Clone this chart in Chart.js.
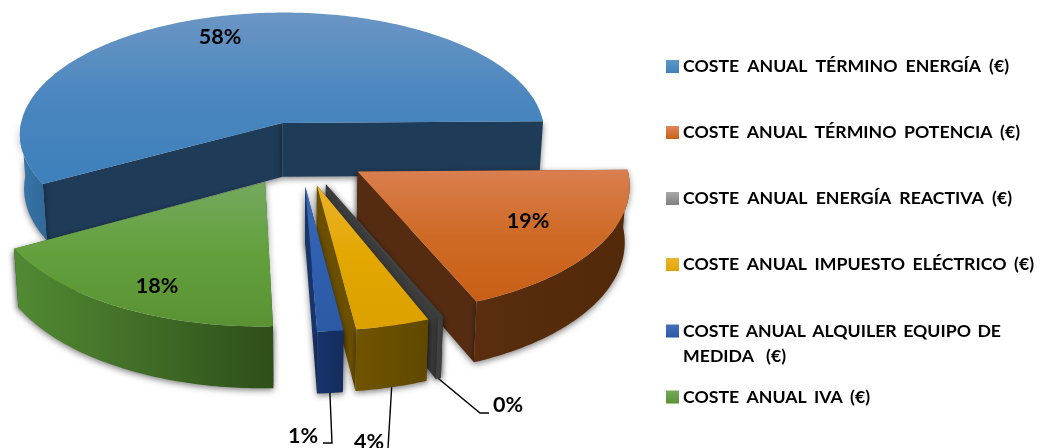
<!DOCTYPE html>
<html>
<head>
<meta charset="utf-8">
<title>Coste anual</title>
<script src="https://cdn.jsdelivr.net/npm/chart.js@4/dist/chart.umd.min.js"></script>
<style>
    html, body { margin: 0; padding: 0; background: #fff; overflow: hidden; }
    canvas { display: block; }
</style>
</head>
<body>
<canvas id="costes" width="1040" height="448"></canvas>
<script>
var categories = [
    "COSTE ANUAL TÉRMINO ENERGÍA (€)",
    "COSTE ANUAL TÉRMINO POTENCIA (€)",
    "COSTE ANUAL ENERGÍA REACTIVA (€)",
    "COSTE ANUAL IMPUESTO ELÉCTRICO (€)",
    "COSTE ANUAL ALQUILER EQUIPO DE MEDIDA (€)",
    "COSTE ANUAL IVA (€)"
];
var values = [58, 19, 0.3, 4, 1.4, 17.6];

// top face gradient, top to bottom
var topColors = [
    ["#6b96c4", "#4a86bf", "#3d80bb"],
    ["#da7f50", "#cf6a26", "#c95f16"],
    ["#4a4a4a", "#444444", "#3e3e3e"],
    ["#eab22c", "#e3a700", "#dca000"],
    ["#3a6ab8", "#2f5fae", "#2c5aa6"],
    ["#74a95e", "#63a03c", "#5a9233"]
];
// outer wall, left to right
var rimColors = [
    ["#3a76ac", "#2f6898"],
    ["#5a2e0e", "#522909"],
    ["#444444", "#3a3a3a"],
    ["#705400", "#5f4800"],
    ["#17336a", "#152d5c"],
    ["#528a33", "#2e4f19"]
];
var faceColors = ["#1e3b58", "#552c12", "#3c3c3c", "#6b5000", "#17356b", "#35561f"];
var swatchColors = [
    ["#5f97c9", "#3f80ba"],
    ["#e0875a", "#c95f16"],
    ["#a8a8a8", "#7f7f7f"],
    ["#edb52f", "#e0a400"],
    ["#4570bb", "#2b58a4"],
    ["#74a95e", "#5a9233"]
];

var drawOrder = [0, 1, 5, 2, 3, 4];

// pie tilt and perspective, in pixels of the page
var view = { cx: 299.5, cy: 153.6, a: 267, b: 125.7, persp: 0.09, depth: 55, shrink: 0.985 };
var sliceOffset = 51;

var pctLabels = [
    { x: 220, y: 37 },
    { x: 528, y: 221 },
    { x: 508, y: 405, leader: [[480, 413], [489, 413]] },
    { x: 369, y: 442, leader: [[388, 448]] },
    { x: 303, y: 436, leader: [[332, 443], [323, 443]] },
    { x: 157, y: 286 }
];

// legend rows: text lines, centre y of first line, width of each line
var legendFont = "bold 17.7px Lato";
var legendRows = [
    { lines: [categories[0]], y: 66.5, widths: [326] },
    { lines: [categories[1]], y: 132.5, widths: [337] },
    { lines: [categories[2]], y: 198.5, widths: [329] },
    { lines: [categories[3]], y: 264.5, widths: [351] },
    { lines: ["COSTE ANUAL ALQUILER EQUIPO DE", "MEDIDA (€)"], y: 331, widths: [318, 103] },
    { lines: [categories[5]], y: 397, widths: [187] }
];

function project(u, v, bottom) {
    var s = 1 / (1 - view.persp * v);
    if (bottom) {
        return [view.cx + view.a * u * s * view.shrink, view.cy + view.b * v * s + view.depth * s];
    }
    return [view.cx + view.a * u * s, view.cy + view.b * v * s];
}

function rimPoint(g, angle, bottom) {
    return project(g.ex + Math.cos(angle), g.ey + Math.sin(angle), bottom);
}

function sliceGeometry(arc) {
    var p = arc.getProps(["startAngle", "endAngle", "outerRadius"], true);
    var mid = (p.startAngle + p.endAngle) / 2;
    var e = arc.options.offset / p.outerRadius;
    return { start: p.startAngle, end: p.endAngle, mid: mid, ex: Math.cos(mid) * e, ey: Math.sin(mid) * e };
}

function linear(ctx, x0, y0, x1, y1, stops) {
    var grad = ctx.createLinearGradient(x0, y0, x1, y1);
    stops.forEach(function (c, i) {
        grad.addColorStop(i / (stops.length - 1), c);
    });
    return grad;
}

function fillPath(ctx, pts, style) {
    ctx.beginPath();
    pts.forEach(function (pt, i) {
        if (i === 0) ctx.moveTo(pt[0], pt[1]); else ctx.lineTo(pt[0], pt[1]);
    });
    ctx.closePath();
    ctx.fillStyle = style;
    ctx.fill();
}

function arcSamples(g, from, to, bottom) {
    var pts = [];
    var n = Math.max(2, Math.ceil(Math.abs(to - from) / 0.015));
    for (var i = 0; i <= n; i++) {
        pts.push(rimPoint(g, from + (to - from) * i / n, bottom));
    }
    return pts;
}

function drawSlice(ctx, arc, i) {
    var g = sliceGeometry(arc);
    var apexTop = project(g.ex, g.ey, false);
    var apexBottom = project(g.ex, g.ey, true);

    ctx.save();
    ctx.shadowColor = "rgba(0,0,0,0.5)";
    ctx.shadowBlur = 6;
    ctx.shadowOffsetY = 2;

    // cut faces
    [g.start, g.end].forEach(function (a) {
        fillPath(ctx, [apexTop, rimPoint(g, a, false), rimPoint(g, a, true), apexBottom], faceColors[i]);
    });

    // outer wall, only the part that faces the viewer
    var from = g.start, to = g.end;
    if (from < -Math.PI) {
        to = Math.min(to, -Math.PI);
    } else {
        from = Math.max(from, 0);
        to = Math.min(to, Math.PI);
    }
    if (to > from) {
        var upper = arcSamples(g, from, to, false);
        var lower = arcSamples(g, to, from, true);
        var xs = upper.concat(lower).map(function (pt) { return pt[0]; });
        var style = linear(ctx, Math.min.apply(null, xs), 0, Math.max.apply(null, xs), 0, rimColors[i]);
        fillPath(ctx, upper.concat(lower), style);
    }
    ctx.restore();

    // top face
    var rim = arcSamples(g, g.start, g.end, false);
    var outline = [apexTop].concat(rim);
    var ys = outline.map(function (pt) { return pt[1]; });
    fillPath(ctx, outline, linear(ctx, 0, Math.min.apply(null, ys), 0, Math.max.apply(null, ys), topColors[i]));
}

function drawPctLabels(ctx, arcs) {
    ctx.save();
    ctx.fillStyle = "#000";
    ctx.strokeStyle = "#000";
    ctx.lineWidth = 1.4;
    ctx.font = "bold 21.5px Lato";
    ctx.textAlign = "center";
    ctx.textBaseline = "middle";
    pctLabels.forEach(function (lab, i) {
        if (lab.leader) {
            var g = sliceGeometry(arcs[i]);
            var from = rimPoint(g, g.mid, true);
            ctx.beginPath();
            ctx.moveTo(from[0], from[1]);
            lab.leader.forEach(function (pt) { ctx.lineTo(pt[0], pt[1]); });
            ctx.stroke();
        }
        ctx.fillText(Math.round(values[i]) + "%", lab.x, lab.y);
    });
    ctx.restore();
}

function drawLegend(ctx) {
    ctx.save();
    ctx.font = legendFont;
    ctx.textAlign = "left";
    ctx.textBaseline = "middle";
    legendRows.forEach(function (row, i) {
        var top = row.y - 6.5;
        ctx.fillStyle = linear(ctx, 0, top, 0, top + 13, swatchColors[i]);
        ctx.fillRect(666, top, 13, 13);
        ctx.fillStyle = "#000";
        row.lines.forEach(function (line, k) {
            // rows are justified, so the spare width goes between the words
            ctx.wordSpacing = "0px";
            var spare = row.widths[k] - ctx.measureText(line).width;
            ctx.wordSpacing = (spare / (line.split(" ").length - 1)) + "px";
            ctx.fillText(line, 683, row.y + k * 25.5);
        });
    });
    ctx.restore();
}

var tiltedPie = {
    id: "tiltedPie",
    beforeDatasetsDraw: function (chart) {
        var ctx = chart.ctx;
        var arcs = chart.getDatasetMeta(0).data;
        drawOrder.forEach(function (i) {
            drawSlice(ctx, arcs[i], i);
        });
        drawPctLabels(ctx, arcs);
        drawLegend(ctx);
        return false;
    }
};

new Chart(document.getElementById("costes"), {
    type: "pie",
    data: {
        labels: categories,
        datasets: [{
            data: values,
            backgroundColor: swatchColors.map(function (c) { return c[1]; }),
            borderWidth: 0,
            offset: sliceOffset
        }]
    },
    options: {
        responsive: false,
        animation: false,
        rotation: -119,
        plugins: {
            legend: { display: false },
            tooltip: { enabled: false }
        }
    },
    plugins: [tiltedPie]
});
</script>
</body>
</html>
